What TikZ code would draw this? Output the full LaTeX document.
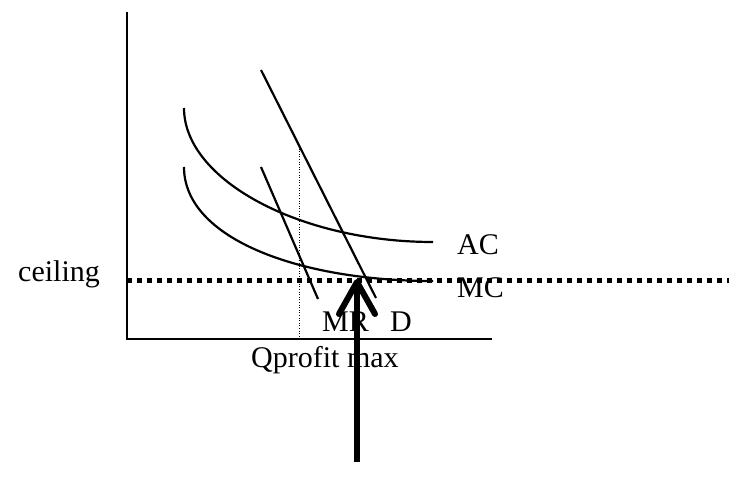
\documentclass[tikz,border=0pt]{standalone}
\usepackage{fontspec}
\setmainfont{Liberation Serif}
\usetikzlibrary{arrows.meta}

\begin{document}
\begin{tikzpicture}[x=1pt,y=-1pt,
    lbl/.style={anchor=base west,inner sep=0pt,font=\fontsize{30}{36}\selectfont},
    curve/.style={line width=2.2pt}]
        \useasboundingbox (0,0) rectangle (729,489);
        % axes
        \coordinate (O) at (127,339);
        \coordinate (Ytop) at (127,12);
        \coordinate (Xend) at (492,339);
        \draw[line width=2.5pt] (Ytop) -- (O) -- (Xend);
        % AC and MC curves
        \coordinate (ACa) at (184,108);
        \coordinate (ACb) at (433,242);
        \coordinate (MCa) at (184,167);
        \coordinate (MCb) at (433,281);
        \draw[curve] (ACa) .. controls (184,180) and (300,242) .. (ACb);
        \draw[curve] (MCa) .. controls (184,239) and (300,281) .. (MCb);
        % demand D and marginal revenue MR
        \coordinate (Da) at (261,70);
        \coordinate (Db) at (376,298);
        \coordinate (MRa) at (261,167);
        \coordinate (MRb) at (318,299);
        \draw[curve] (Da) -- (Db);
        \draw[curve] (MRa) -- (MRb);
        % Q profit max
        \coordinate (Qtop) at (299,146);
        \coordinate (Qbot) at (299,339);
        \draw[line width=0.6pt,dotted] (Qtop) -- (Qbot);
        % price ceiling
        \coordinate (Cl) at (127,281);
        \coordinate (Cr) at (729,281);
        \draw[line width=5pt,dash pattern=on 5pt off 5pt] (Cl) -- (Cr);
        % arrow
        \coordinate (Afoot) at (357,462);
        \coordinate (Atip) at (357,279);
        \draw[line width=6pt,-{Straight Barb[length=32pt,width=36pt,line width=6pt,round]}] (Afoot) -- (Atip);
        % labels
        \node[lbl] (ceil) at (18,282) {ceiling};
        \node[lbl] (AC) at (457,255) {AC};
        \node[lbl] (MC) at (457,298) {MC};
        \node[lbl] (MR) at (322,332) {MR};
        \node[lbl] (D) at (390,332) {D};
        \node[lbl] (Qpm) at (251,367) {Qprofit max};
    \end{tikzpicture}
\end{document}
